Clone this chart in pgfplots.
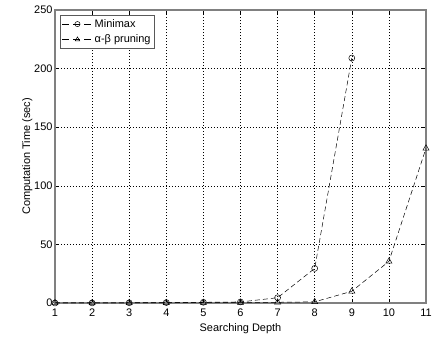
\documentclass[border=0pt]{standalone}
\usepackage{pgfplots}
\pgfplotsset{compat=1.18}
\usepackage{fontspec}
\setmainfont{Liberation Sans}
\begin{document}
\begin{tikzpicture}[x=1bp,y=1bp]
\useasboundingbox (-55,-36) rectangle (377,303);
\begin{axis}[
  at={(0,0)}, anchor=south west,
  scale only axis, width=371bp, height=293bp,
  xmin=1, xmax=11, ymin=0, ymax=250,
  xtick={1,...,11}, ytick={0,50,...,250},
  tick align=inside,
  axis line style={gray, line width=1.2pt},
  every tick/.style={black, line width=0.5pt},
  major tick length=4bp,
  grid=major,
  major grid style={black, dash pattern=on 0.8bp off 2.2bp, line width=0.5pt},
  font=\fontsize{11}{13}\selectfont,
  /pgf/number format/assume math mode=true,
  xticklabel style={yshift=-2bp},
  yticklabel style={xshift=1bp},
  xlabel={Searching Depth},
  ylabel={Computation Time (sec)},
  xlabel style={yshift=0bp},
  ylabel style={yshift=-5bp},
  legend style={draw=gray!70!black, line width=0.8pt, font=\fontsize{11}{13}\selectfont, inner sep=2pt, row sep=2pt, at={(0.013,0.983)}, anchor=north west},
  legend cell align=left,
  legend image code/.code={\draw[#1, line width=0.5pt, dash pattern=on 7bp off 4bp] (0cm,0cm) -- (30bp,0cm); \draw[#1, only marks, line width=0.5pt, mark size=2.6pt] plot coordinates {(15bp,0cm)};},
]
\addplot[black, dash pattern=on 5bp off 3bp, line width=0.5pt, mark=o, mark size=3pt, mark options={solid, fill=none}]
  coordinates {(1,0.01)(2,0.05)(3,0.2)(4,0.4)(5,0.6)(6,0.9)(7,4.5)(8,29.5)(9,209)};
\addlegendentry{Minimax}
\addplot[black, dash pattern=on 5bp off 3bp, line width=0.5pt, mark=triangle, mark size=3.5pt, mark options={solid, fill=none}]
  coordinates {(1,0.01)(2,0.03)(3,0.1)(4,0.2)(5,0.3)(6,0.4)(7,0.6)(8,1)(9,10)(10,35.5)(11,132)};
\addlegendentry{α-β pruning}
\end{axis}
\end{tikzpicture}
\end{document}
